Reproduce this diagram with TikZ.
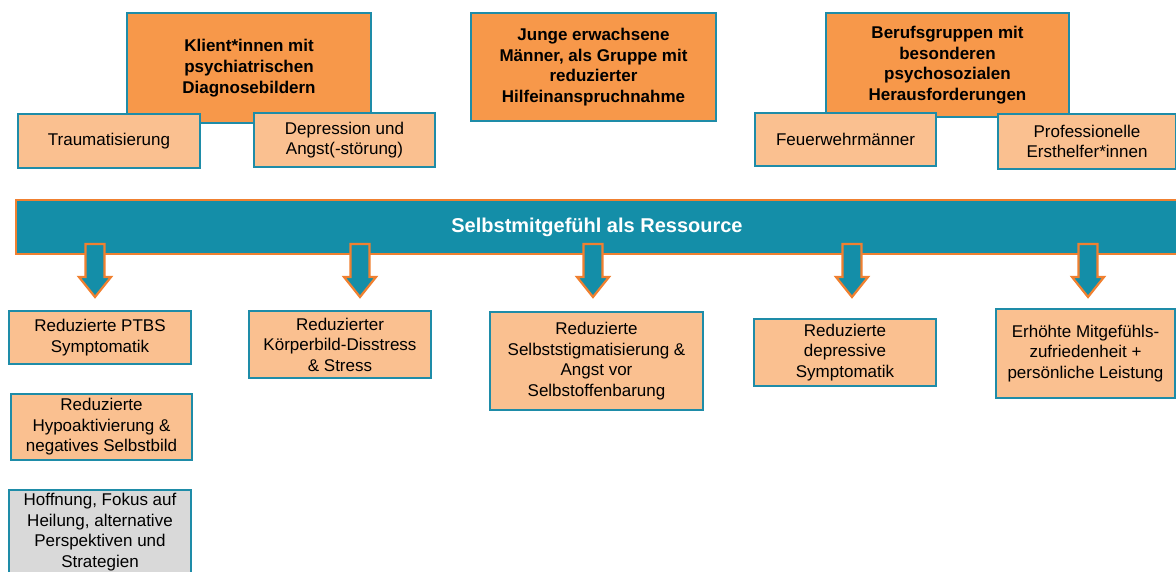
\documentclass[tikz,border=0pt]{standalone}
\usepackage{fontspec}
\setmainfont{Liberation Sans}
\usetikzlibrary{positioning}
\definecolor{boxteal}{RGB}{30,140,168}
\definecolor{bannerteal}{RGB}{20,142,168}
\definecolor{darkorange}{RGB}{247,152,74}
\definecolor{lightorange}{RGB}{250,192,144}
\definecolor{lineorange}{RGB}{240,128,48}
\definecolor{hopegray}{RGB}{217,217,217}
\tikzstyle{group} = [rectangle, draw=boxteal, line width=2.2pt, fill=darkorange, text centered, align=center, inner sep=0pt, font=\fontsize{17}{20.7}\selectfont\bfseries]
\tikzstyle{sub} = [rectangle, draw=boxteal, line width=2.2pt, fill=lightorange, text centered, align=center, inner sep=0pt, font=\fontsize{17}{20.5}\selectfont]
\tikzstyle{hope} = [sub, fill=hopegray]
\tikzstyle{banner} = [rectangle, draw=lineorange, line width=2.5pt, fill=bannerteal, text=white, inner sep=0pt, font=\fontsize{20}{24}\selectfont\bfseries]
\tikzstyle{blockarrow} = [draw=lineorange, line width=2.2pt, fill=bannerteal, line join=miter]

\begin{document}
\begin{tikzpicture}[x=1pt, y=-1pt]
\useasboundingbox (0,0) rectangle (1176,572);

% target groups
\node (klient) [group, minimum width=244pt, minimum height=110pt] at (249,68) {Klient*innen mit\\psychiatrischen\\Diagnosebildern};
\node (junge) [group, minimum width=245pt, minimum height=108pt] at (593.5,67) {Junge erwachsene\\Männer, als Gruppe mit\\reduzierter\\Hilfeinanspruchnahme};
\node (beruf) [group, minimum width=243pt, minimum height=104pt] at (947.5,65) {Berufsgruppen mit\\besonderen\\psychosozialen\\Herausforderungen};

\node (trauma) [sub, minimum width=182pt, minimum height=54pt] at (109,141) {Traumatisierung};
\node (depress) [sub, minimum width=181pt, minimum height=54pt] at (344.5,140) {Depression und\\Angst(-störung)};
\node (feuer) [sub, minimum width=181pt, minimum height=53pt] at (845.5,139.5) {Feuerwehrmänner};
\node (profi) [sub, minimum width=178pt, minimum height=55pt] at (1087,141.5) {Professionelle\\Ersthelfer*innen};

% resource
\node (banner) [banner, minimum width=1162pt, minimum height=54pt] at (597,227) {Selbstmitgefühl als Ressource};

\coordinate (a1) at (95,244);
\coordinate (a2) at (360,244);
\coordinate (a3) at (593,244);
\coordinate (a4) at (852,244);
\coordinate (a5) at (1088,244);
\draw[blockarrow] (a1) ++(-9.5,0) -- ++(19,0) -- ++(0,33) -- ++(6.5,0) -- ++(-16,20) -- ++(-16,-20) -- ++(6.5,0) -- cycle;
\draw[blockarrow] (a2) ++(-9.5,0) -- ++(19,0) -- ++(0,33) -- ++(6.5,0) -- ++(-16,20) -- ++(-16,-20) -- ++(6.5,0) -- cycle;
\draw[blockarrow] (a3) ++(-9.5,0) -- ++(19,0) -- ++(0,33) -- ++(6.5,0) -- ++(-16,20) -- ++(-16,-20) -- ++(6.5,0) -- cycle;
\draw[blockarrow] (a4) ++(-9.5,0) -- ++(19,0) -- ++(0,33) -- ++(6.5,0) -- ++(-16,20) -- ++(-16,-20) -- ++(6.5,0) -- cycle;
\draw[blockarrow] (a5) ++(-9.5,0) -- ++(19,0) -- ++(0,33) -- ++(6.5,0) -- ++(-16,20) -- ++(-16,-20) -- ++(6.5,0) -- cycle;

% effects
\node (ptbs) [sub, minimum width=182pt, minimum height=53pt] at (100,337.5) {Reduzierte PTBS\\Symptomatik};
\node (hypo) [sub, minimum width=181pt, minimum height=66pt] at (101.5,427) {Reduzierte\\Hypoaktivierung \&\\negatives Selbstbild};
\node (hoff) [hope, minimum width=182pt, minimum height=84pt] at (100,532) {Hoffnung, Fokus auf\\Heilung, alternative\\Perspektiven und\\Strategien};
\node (koerper) [sub, minimum width=182pt, minimum height=67pt] at (340,344.5) {Reduzierter\\Körperbild-Disstress\\\& Stress};
\node (stigma) [sub, minimum width=213pt, minimum height=98pt] at (596.5,361) {Reduzierte\\Selbststigmatisierung \&\\Angst vor\\Selbstoffenbarung};
\node (depsym) [sub, minimum width=182pt, minimum height=67pt] at (845,352.5) {Reduzierte\\depressive\\Symptomatik};
\node (erhoeht) [sub, minimum width=179pt, minimum height=89pt] at (1085.5,353.5) {Erhöhte Mitgefühls-\\zufriedenheit +\\persönliche Leistung};

\end{tikzpicture}
\end{document}
